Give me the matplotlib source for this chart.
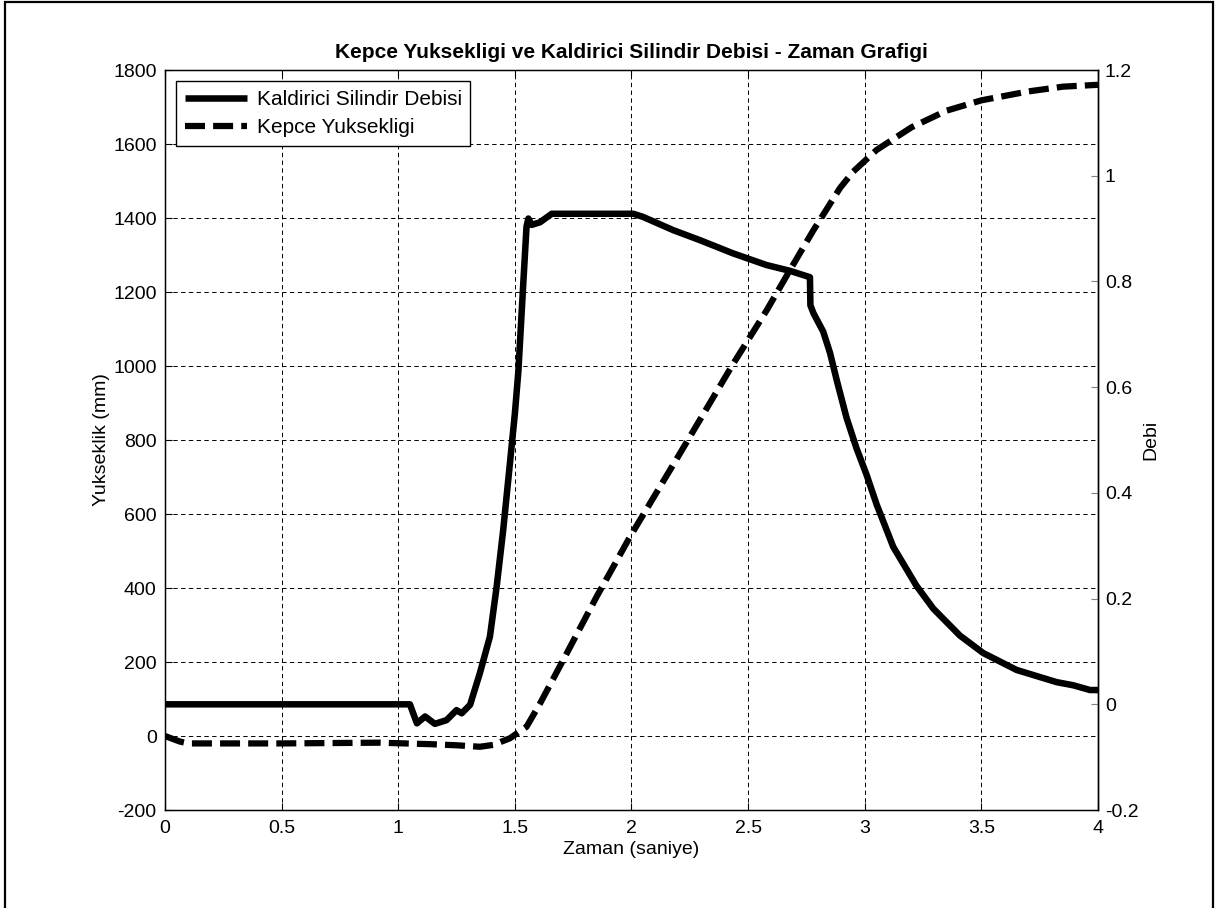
import matplotlib
matplotlib.use("Agg")
import matplotlib.pyplot as plt
from matplotlib.patches import Rectangle

plt.rcParams['font.family'] = ['Liberation Sans', 'DejaVu Sans']
plt.rcParams['axes.unicode_minus'] = False

# Kaldirici silindir debisi (right axis)
t_debi = [0.0, 1.05, 1.08, 1.115, 1.157, 1.207, 1.25, 1.272, 1.308, 1.35, 1.393,
          1.422, 1.45, 1.479, 1.5, 1.515, 1.536, 1.55, 1.558, 1.572, 1.608, 1.658,
          2.008, 2.05, 2.179, 2.294, 2.436, 2.579, 2.68, 2.765, 2.767, 2.78, 2.822,
          2.851, 2.88, 2.922, 2.965, 3.008, 3.051, 3.122, 3.222, 3.294, 3.408,
          3.508, 3.651, 3.822, 3.894, 3.966, 4.0]
debi = [0.0, 0.0, -0.036, -0.023, -0.037, -0.03, -0.011, -0.017, -0.001, 0.059, 0.128,
        0.223, 0.33, 0.457, 0.55, 0.63, 0.796, 0.904, 0.919, 0.907, 0.912, 0.928,
        0.928, 0.922, 0.897, 0.878, 0.853, 0.831, 0.82, 0.808, 0.755, 0.74, 0.705,
        0.665, 0.613, 0.542, 0.484, 0.434, 0.378, 0.298, 0.224, 0.181, 0.13,
        0.097, 0.065, 0.042, 0.036, 0.027, 0.027]

# Kepce yuksekligi (left axis, mm)
t_height = [0.0, 0.064, 0.1, 0.5, 0.92, 1.136, 1.25, 1.35, 1.407, 1.479, 1.55,
            1.608, 1.722, 1.85, 1.994, 2.208, 2.436, 2.579, 2.68, 2.78, 2.894,
            2.95, 3.051, 3.2, 3.35, 3.5, 3.7, 3.85, 4.0]
height = [0, -15, -20, -20, -18, -22, -25, -29, -24, -6, 25,
          88, 223, 376, 539, 764, 1006, 1150, 1260, 1367, 1481,
          1525, 1584, 1645, 1690, 1718, 1742, 1755, 1760]

left_ticks = list(range(-200, 1801, 200))
right_ticks = [-0.2, 0, 0.2, 0.4, 0.6, 0.8, 1, 1.2]
right_labels = ['-0.2', '0', '0.2', '0.4', '0.6', '0.8', '1', '1.2']
x_ticks = [0, 0.5, 1, 1.5, 2, 2.5, 3, 3.5, 4]
x_labels = ['0', '0.5', '1', '1.5', '2', '2.5', '3', '3.5', '4']

fs = 14

fig = plt.figure(figsize=(12.15, 9.08), dpi=100, facecolor='white')
ax1 = fig.add_axes([0.1358, 0.1079, 0.7679, 0.815])
ax2 = ax1.twinx()

# outer frame like the exported MATLAB figure
fig.patches.append(Rectangle((0.004, -0.01), 0.994, 1.008, transform=fig.transFigure,
                             fill=False, edgecolor='black', linewidth=1.6))

h_line, = ax1.plot(t_height, height, color='black', linewidth=4.5,
                   dashes=(3.2, 1.3), dash_capstyle='butt', solid_joinstyle='round',
                   label='Kepce Yuksekligi')
d_line, = ax2.plot(t_debi, debi, color='black', linewidth=4.7,
                   solid_joinstyle='round', solid_capstyle='butt',
                   label='Kaldirici Silindir Debisi')

ax1.set_xlim(0, 4)
ax1.set_ylim(-200, 1800)
ax2.set_ylim(-0.2, 1.2)
ax1.set_xticks(x_ticks)
ax1.set_xticklabels(x_labels)
ax1.set_yticks(left_ticks)
ax2.set_yticks(right_ticks)
ax2.set_yticklabels(right_labels)

ax1.grid(True, color='black', linestyle=(0, (4.5, 3.5)), linewidth=0.7)
ax1.tick_params(axis='y', direction='in', length=5, width=0.8, labelsize=fs,
                colors='black', pad=6)
ax1.tick_params(axis='x', direction='in', length=5, width=0.8, labelsize=fs,
                top=True, colors='black', pad=7)
ax2.tick_params(direction='in', length=5, width=0.8, labelsize=fs, colors='#808080',
                labelcolor='black', pad=5)
for sp in ax1.spines.values():
    sp.set_linewidth(1.0)
ax2.spines['right'].set_linewidth(1.0)

ax1.set_xlabel('Zaman (saniye)', fontsize=fs, labelpad=3)
ax1.set_ylabel('Yukseklik (mm)', fontsize=fs, labelpad=2)
ax2.set_ylabel('Debi', fontsize=fs, labelpad=3)
ax1.set_title('Kepce Yuksekligi ve Kaldirici Silindir Debisi - Zaman Grafigi',
              fontsize=15, fontweight='bold', pad=9)

leg = ax2.legend(handles=[d_line, h_line], loc='upper left', fontsize=15,
                 frameon=True, fancybox=False, edgecolor='black', framealpha=1,
                 borderaxespad=0.55, handlelength=3.0, borderpad=0.4,
                 labelspacing=0.45, handletextpad=0.45)
leg.get_frame().set_linewidth(1.0)

fig.savefig('out.png', dpi=100, facecolor='white')
